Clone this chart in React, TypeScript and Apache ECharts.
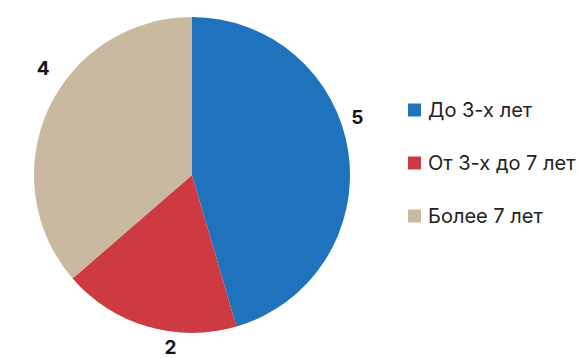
import React, { useEffect, useRef } from "react";
import * as echarts from "echarts";

const categories = ["До 3-х лет", "От 3-х до 7 лет", "Более 7 лет"];
const values = [5, 2, 4];
const colors = ["#1F73BC", "#CE3A42", "#C9B9A0"];
const labelOffsets: [number, number][] = [[-10, -34], [39, 20], [14, -39]];

export default function App() {
  const ref = useRef<HTMLDivElement>(null);
  useEffect(() => {
    document.body.style.margin = "0";
    const chart = echarts.init(ref.current!, null, { renderer: "svg" });
    chart.setOption({
      animation: false,
      backgroundColor: "#ffffff",
      legend: {
        orient: "vertical",
        left: 403,
        top: 95,
        icon: "rect",
        itemWidth: 13,
        itemHeight: 13,
        itemGap: 33,
        textStyle: { fontFamily: "Inter", fontSize: 20, color: "#222222", padding: [0, 0, 0, 2] },
        data: categories,
      },
      series: [
        {
          type: "pie",
          center: [192, 175],
          radius: [0, 158],
          startAngle: 90,
          clockwise: true,
          label: {
            show: true,
            position: "outside",
            formatter: "{c}",
            fontFamily: "Inter",
            fontWeight: "bold",
            fontSize: 19,
            color: "#111111",
          },
          labelLine: { show: false, length: 4, length2: 4 },
          itemStyle: { borderWidth: 0 },
          data: categories.map((name, i) => ({
            name,
            value: values[i],
            itemStyle: { color: colors[i] },
            label: { offset: labelOffsets[i] },
          })),
        },
      ],
    });
    return () => chart.dispose();
  }, []);
  return <div ref={ref} style={{ width: 578, height: 358 }} />;
}
